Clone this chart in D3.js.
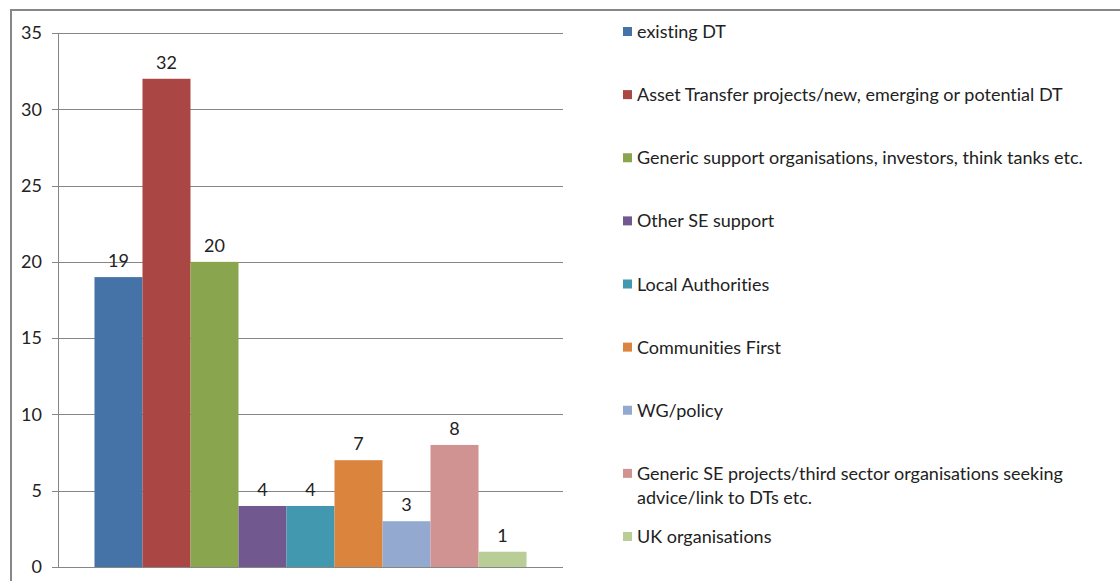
<!DOCTYPE html>
<html>
<head>
<meta charset="utf-8">
<script src="https://cdn.jsdelivr.net/npm/d3@7"></script>
<style>
  body { margin: 0; background: #fff; }
  svg { display: block; font-family: Lato, "Open Sans", sans-serif; font-variant-ligatures: none; }
</style>
</head>
<body>
<div id="chart"></div>
<script>
var categories = [
    "existing DT",
    "Asset Transfer projects/new, emerging or potential DT",
    "Generic support organisations, investors, think tanks etc.",
    "Other SE support",
    "Local Authorities",
    "Communities First",
    "WG/policy",
    "Generic SE projects/third sector organisations seeking advice/link to DTs etc.",
    "UK organisations"
];
var values = [19, 32, 20, 4, 4, 7, 3, 8, 1];
var colours = ["#4572A7", "#AA4643", "#89A54E", "#71588F", "#4198AF",
               "#DB843D", "#93A9CF", "#D19392", "#B9CD96"];
var yTicks = [0, 5, 10, 15, 20, 25, 30, 35];

var width = 1120, height = 581;
var plotLeft = 58, plotRight = 563, plotTop = 33, plotBottom = 567;
var textColour = "#222";
var gridColour = "#868686";
var fontSize = 18;

var svg = d3.select("#chart")
    .append("svg")
    .attr("width", width)
    .attr("height", height);

// outer chart frame (runs off the right and bottom edge)
svg.append("rect")
    .attr("x", 11)
    .attr("y", 10)
    .attr("width", width + 20)
    .attr("height", height + 20)
    .attr("fill", "none")
    .attr("stroke", "#878787")
    .attr("stroke-width", 2);

var y = d3.scaleLinear()
    .domain([0, 35])
    .range([plotBottom, plotTop]);

var x = d3.scaleBand()
    .domain(categories)
    .range([plotLeft, plotRight])
    .paddingInner(0)
    .paddingOuter(0.76);

var yAxis = d3.axisLeft(y)
    .tickValues(yTicks)
    .tickSize(plotRight - plotLeft + 6)
    .tickPadding(10);

var gy = svg.append("g")
    .attr("transform", `translate(${plotRight},0)`)
    .call(yAxis);
gy.select(".domain").remove();
gy.selectAll(".tick line")
    .attr("stroke", gridColour)
    .attr("stroke-width", 1)
    .attr("shape-rendering", "crispEdges");
gy.selectAll(".tick text")
    .attr("fill", textColour)
    .attr("font-size", fontSize)
    .attr("font-family", "Lato, sans-serif");

// vertical axis line
svg.append("line")
    .attr("x1", plotLeft)
    .attr("x2", plotLeft)
    .attr("y1", plotTop)
    .attr("y2", plotBottom)
    .attr("stroke", gridColour)
    .attr("shape-rendering", "crispEdges");

var bars = svg.append("g")
    .selectAll("rect")
    .data(values)
    .enter()
    .append("rect")
    .attr("x", (d, i) => x(categories[i]))
    .attr("y", d => y(d))
    .attr("width", x.bandwidth())
    .attr("height", d => y(0) - y(d))
    .attr("fill", (d, i) => colours[i]);

svg.append("g")
    .selectAll("text")
    .data(values)
    .enter()
    .append("text")
    .attr("x", (d, i) => x(categories[i]) + x.bandwidth() / 2)
    .attr("y", d => y(d) - 10)
    .attr("text-anchor", "middle")
    .attr("font-size", fontSize)
    .attr("fill", textColour)
    .text(d => d);

// legend
var legendY = d3.scalePoint()
    .domain(categories)
    .range([32, 537]);
var legendX = 623;
var maxLegendWidth = 470;

var legend = svg.append("g")
    .selectAll("g")
    .data(categories)
    .enter()
    .append("g")
    .attr("transform", d => `translate(${legendX},${legendY(d)})`);

legend.append("rect")
    .attr("x", 0)
    .attr("y", -5)
    .attr("width", 9)
    .attr("height", 9)
    .attr("fill", (d, i) => colours[i]);

legend.append("text")
    .attr("x", 14)
    .attr("y", 6)
    .attr("font-size", fontSize)
    .attr("fill", textColour)
    .each(function (d) {
        var textEl = d3.select(this);
        var words = d.split(" ");
        var line = [];
        var tspan = textEl.append("tspan").attr("x", 14).attr("dy", 0);
        words.forEach(function (w) {
            line.push(w);
            tspan.text(line.join(" "));
            if (tspan.node().getComputedTextLength() > maxLegendWidth && line.length > 1) {
                line.pop();
                tspan.text(line.join(" "));
                line = [w];
                tspan = textEl.append("tspan").attr("x", 14).attr("dy", 24).text(w);
            }
        });
    });
</script>
</body>
</html>
